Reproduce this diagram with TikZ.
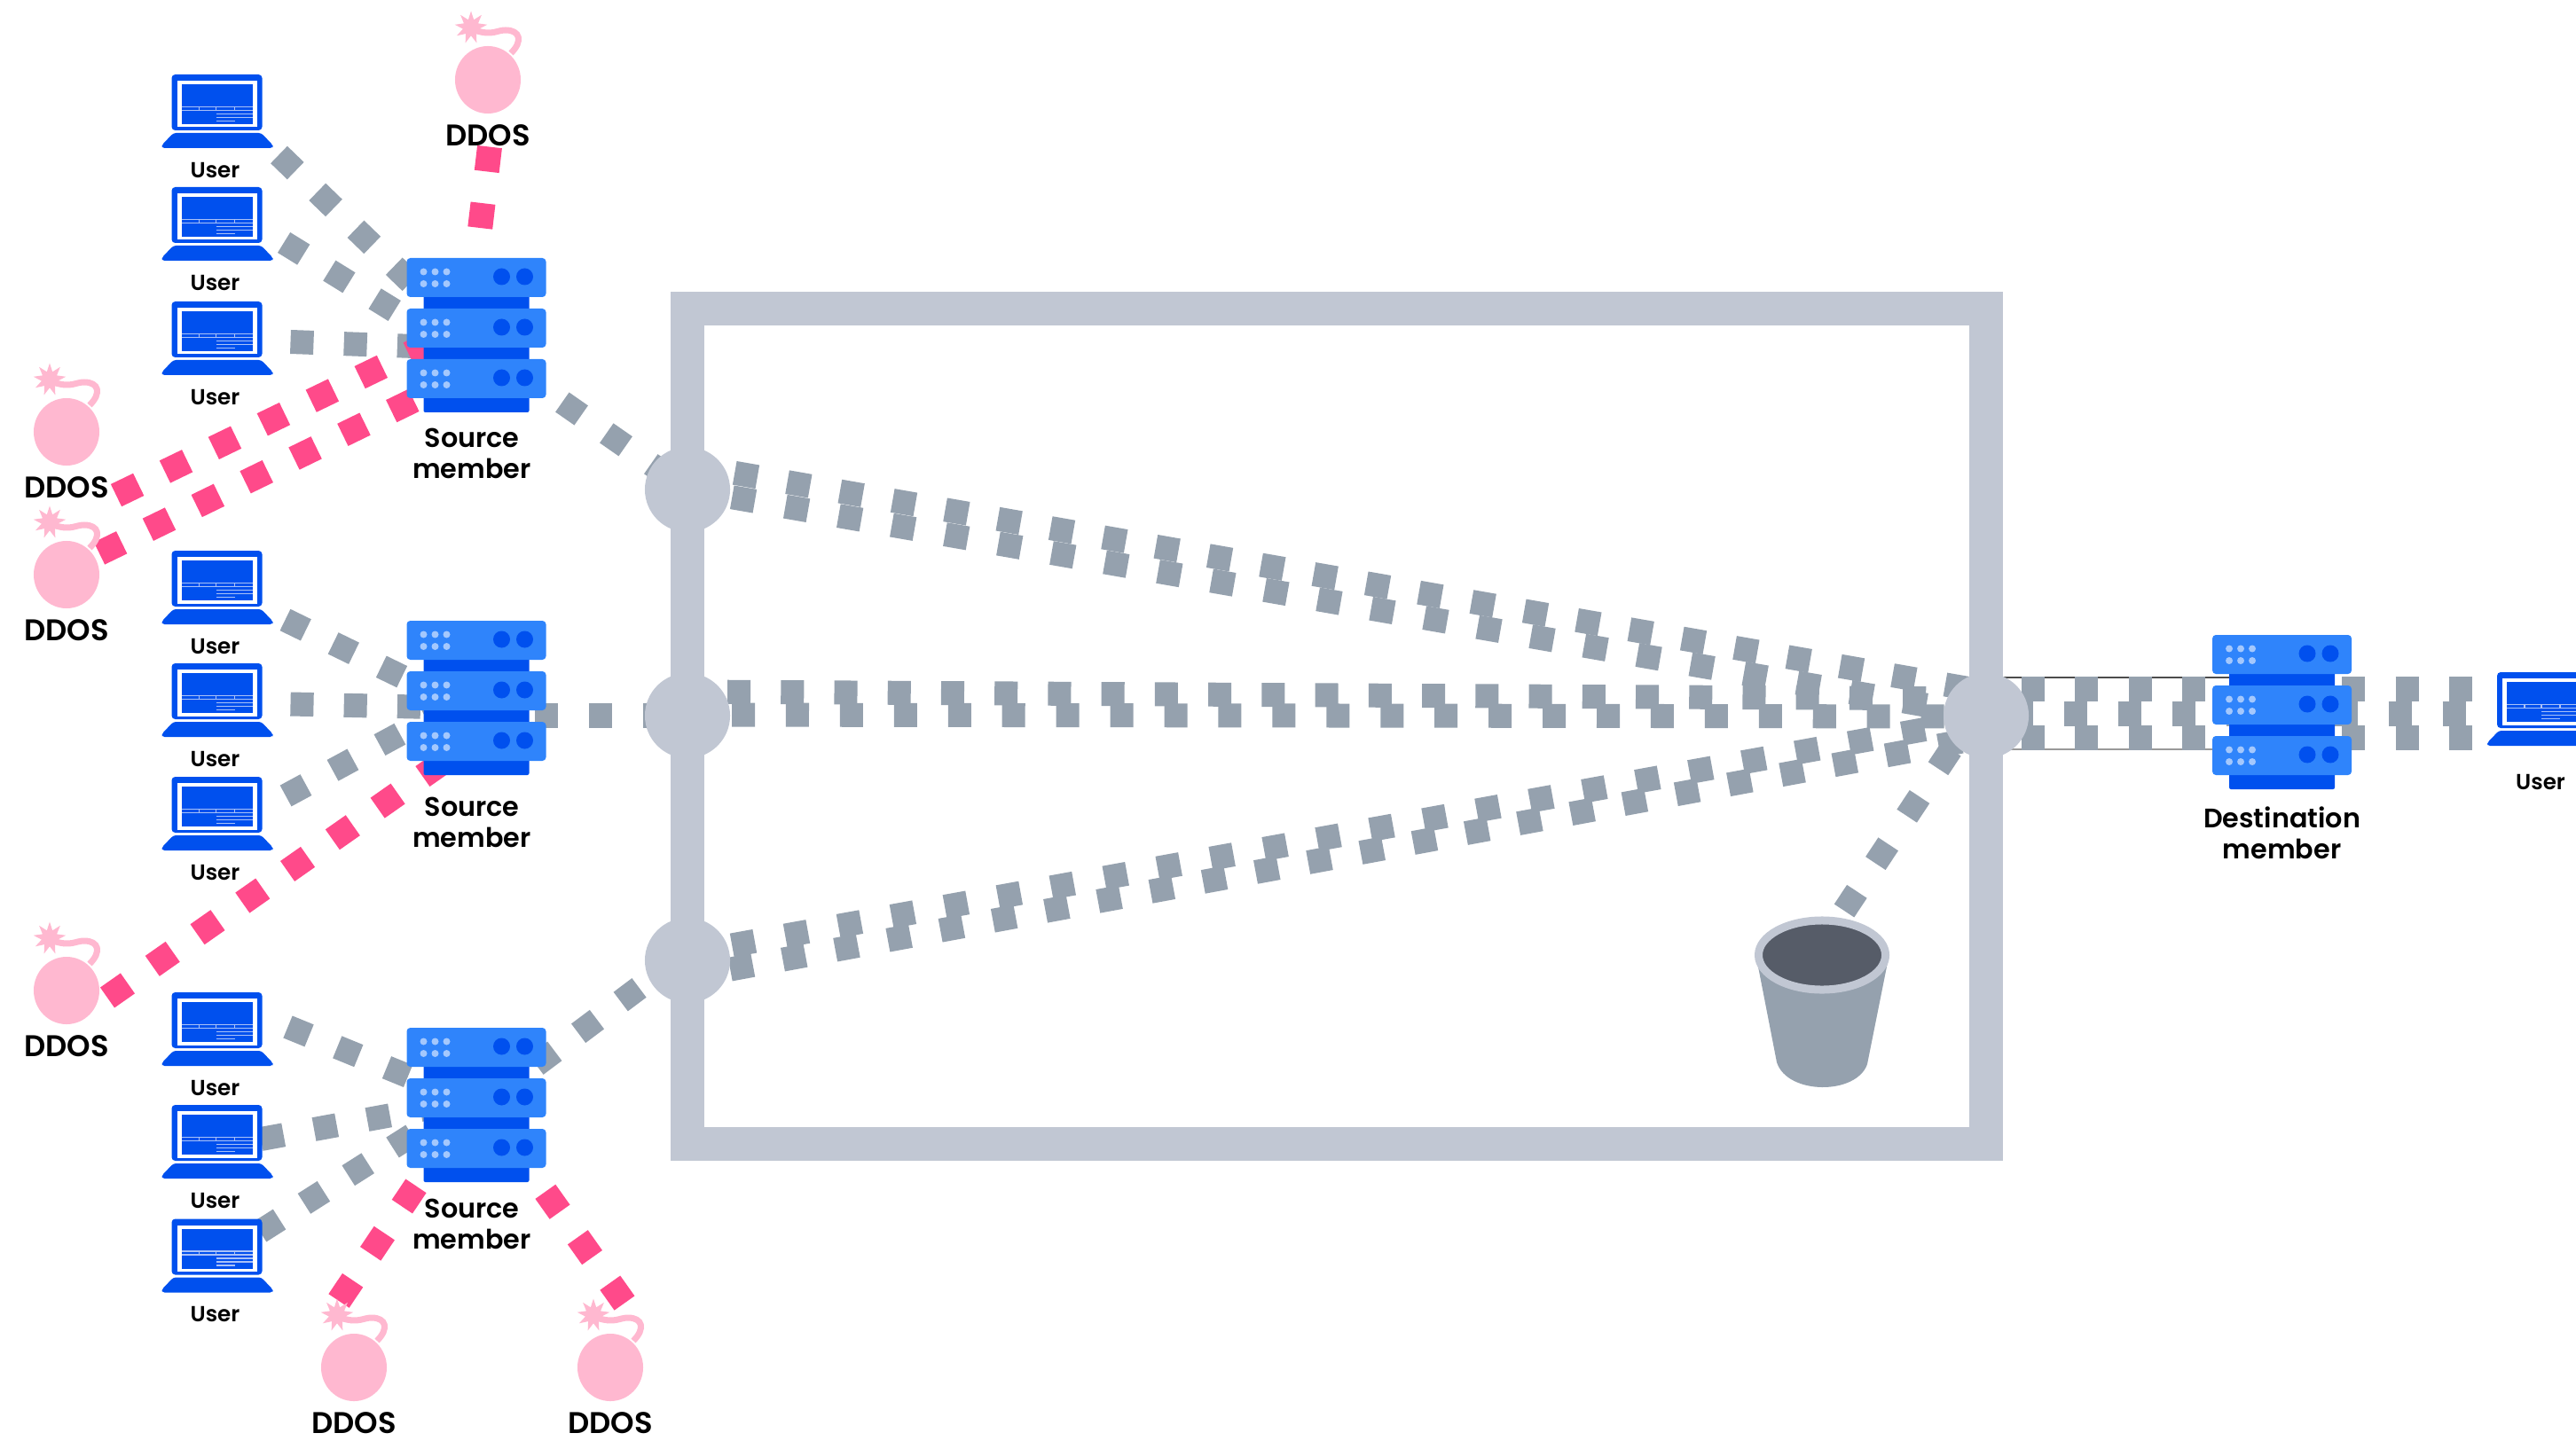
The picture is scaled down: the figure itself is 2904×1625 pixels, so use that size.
\documentclass[tikz,border=0pt]{standalone}
\usepackage{fontspec}
\setmainfont{Poppins}[BoldFont={Poppins SemiBold}]
\usetikzlibrary{positioning, shapes.geometric, backgrounds}
\definecolor{lapblue}{HTML}{0050EE}
\definecolor{srvblue}{HTML}{2F84FB}
\definecolor{dotblue}{HTML}{A4C8FD}
\definecolor{tintblue}{HTML}{A9C1F8}
\definecolor{flowgrey}{HTML}{95A1AE}
\definecolor{framegrey}{HTML}{C1C7D3}
\definecolor{hitpink}{HTML}{FF4A8A}
\definecolor{bombpink}{HTML}{FFB8D0}
\definecolor{pailgrey}{HTML}{565C68}

\begin{document}
\begin{tikzpicture}[
      x=.01cm, y=-.01cm,
      every node/.style={inner sep=0, outer sep=0},
      ghost/.style={minimum width=#1, minimum height=.83cm},
      srvbox/.style={minimum width=1.57cm, minimum height=1.74cm},
      hub/.style={circle, fill=framegrey, minimum size=.96cm},
      zone/.style={draw=framegrey, line width=.38cm, minimum width=14.64cm, minimum height=9.42cm},
      flow/.style={draw=flowgrey, line width=.27cm, dash pattern=on .26cm off .342cm},
      flowB/.style={flow, dash pattern=on .26cm off .349cm},
      hit/.style={draw=hitpink, line width=.28cm, dash pattern=on .28cm off .33cm},
      tube/.style={line width=.025cm},
      usertext/.style={font=\bfseries\fontsize{7}{8}\selectfont},
      srvtext/.style={font=\bfseries\fontsize{8.6}{9.9}\selectfont, align=center},
      ddostext/.style={font=\bfseries\fontsize{9.6}{10}\selectfont},
      pics/laptop/.style={code={
        \node[ghost=1.25cm] (-box) at (0,0) {};
        \fill[lapblue, rounded corners=.04cm] (-51,-41.5) rectangle (51,21.5);
        \fill[white] (-45,-34.5) rectangle (45,18);
        \fill[lapblue] (-40,-30.5) rectangle (40,14.5);
        \fill[lapblue, rounded corners=.03cm] (-49,24.5) -- (50,24.5) -- (63,38) -- (63,41.5) -- (-62,41.5) -- (-62,38) -- cycle;
        \draw[tintblue, line width=.015cm] (-40,-5) -- (40,-5) (-40,-1) -- (40,-1)
          (-20,-5) -- (-20,-1) (-1,-5) -- (-1,-1) (20,-5) -- (20,-1)
          (-1,3) -- (40,3) (-1,7) -- (40,7) (-1,11) -- (20,11);
      }},
      pics/server/.style={code={
        \node[srvbox] (-box) at (0,0) {};
        \fill[lapblue, rounded corners=.02cm] (-59.5,-80) rectangle (59.5,87);
        \foreach \uy in {-87,-30,27} {
          \fill[srvblue, rounded corners=.04cm] (-78.5,\uy) rectangle (78.5,\uy+44);
          \fill[lapblue] (28.5,\uy+21) circle (9.5);
          \fill[lapblue] (54.5,\uy+21) circle (9.5);
          \foreach \ux in {-59.5,-46.5,-33.5} {
            \fill[dotblue] (\ux,\uy+15.5) circle (4);
            \fill[dotblue] (\ux,\uy+29) circle (4);
          }
        }
      }},
      pics/bomb/.style={code={
        \draw[bombpink, line width=.07cm] (26,-30) .. controls (40,-44) and (36,-56) .. (20,-56) .. controls (10,-56) and (6,-50) .. (-12,-55);
        \node[ellipse, fill=bombpink, minimum width=.74cm, minimum height=.76cm] (-box) at (0,0) {};
        \node[star, star points=9, star point ratio=2, fill=bombpink, minimum size=.37cm] (-spark) at (-19,-59) {};
      }}
    ]

  \useasboundingbox (0,0) rectangle (2904,1625);

  \node[zone] (zone) at (1507,819) {};
  \node[hub] (hubA) at (775,552) {};
  \node[hub] (hubB) at (775,807) {};
  \node[hub] (hubC) at (775,1083) {};
  \node[hub] (hubR) at (2239,807) {};

  \pic (srvA) at (537,378) {server};
  \pic (srvB) at (537,787) {server};
  \pic (srvC) at (537,1246) {server};
  \pic (srvD) at (2572.5,803) {server};
  \node[srvtext, below=.185cm of srvA-box, xshift=-.05cm] (srvAtext) {Source\\member};
  \node[srvtext, below=.25cm of srvB-box, xshift=-.05cm] (srvBtext) {Source\\member};
  \node[srvtext, below=.19cm of srvC-box, xshift=-.05cm] (srvCtext) {Source\\member};
  \node[srvtext, below=.2cm of srvD-box] (srvDtext) {Destination\\member};

  \pic (userA) at (244.5,125.5) {laptop};
  \pic (userB) at (244.5,252.5) {laptop};
  \pic (userC) at (244.5,381.5) {laptop};
  \pic (userD) at (244.5,662.5) {laptop};
  \pic (userE) at (244.5,789.5) {laptop};
  \pic (userF) at (244.5,917.5) {laptop};
  \pic (userG) at (244.5,1160.5) {laptop};
  \pic (userH) at (244.5,1287.5) {laptop};
  \pic (userI) at (244.5,1416) {laptop};
  \pic (userJ) at (2866,799.5) {laptop};
  \node[usertext, below=.16cm of userA-box, xshift=-.02cm] (userAtext) {User};
  \node[usertext, below=.16cm of userB-box, xshift=-.02cm] (userBtext) {User};
  \node[usertext, below=.16cm of userC-box, xshift=-.02cm] (userCtext) {User};
  \node[usertext, below=.16cm of userD-box, xshift=-.02cm] (userDtext) {User};
  \node[usertext, below=.16cm of userE-box, xshift=-.02cm] (userEtext) {User};
  \node[usertext, below=.16cm of userF-box, xshift=-.02cm] (userFtext) {User};
  \node[usertext, below=.16cm of userG-box, xshift=-.02cm] (userGtext) {User};
  \node[usertext, below=.16cm of userH-box, xshift=-.02cm] (userHtext) {User};
  \node[usertext, below=.16cm of userI-box, xshift=-.02cm] (userItext) {User};
  \node[usertext, below=.32cm of userJ-box, xshift=-.02cm] (userJtext) {User};

  \pic (bombA) at (550,90) {bomb};
  \pic (bombB) at (75,487) {bomb};
  \pic (bombC) at (75,648) {bomb};
  \pic (bombD) at (75,1117) {bomb};
  \pic (bombE) at (399,1542) {bomb};
  \pic (bombF) at (688,1542) {bomb};
  \node[ddostext, below=.125cm of bombA-box] (ddosA) {DDOS};
  \node[ddostext, below=.125cm of bombB-box] (ddosB) {DDOS};
  \node[ddostext, below=.125cm of bombC-box] (ddosC) {DDOS};
  \node[ddostext, below=.125cm of bombD-box] (ddosD) {DDOS};
  \node[ddostext, below=.125cm of bombE-box] (ddosE) {DDOS};
  \node[ddostext, below=.125cm of bombF-box] (ddosF) {DDOS};

  \fill[flowgrey] (1981,1085) -- (2003,1198) .. controls (2015,1235) and (2093,1235) .. (2105,1200) -- (2128,1085) -- cycle;
  \node[ellipse, fill=pailgrey, draw=framegrey, line width=.09cm, minimum width=1.43cm, minimum height=.78cm] (pail) at (2054,1077) {};

  \begin{scope}[on background layer]
    \draw[flow, shorten <=.54cm] ([shift={(0,-28)}]hubA.center) -- ([shift={(0,-27)}]hubR.center);
    \draw[flowB, shorten <=.51cm] (hubA.center) -- (hubR.center);
    \draw[flow, shorten <=.45cm] ([shift={(0,-27)}]hubB.center) -- ([shift={(0,-19)}]hubR.center);
    \draw[flowB, shorten <=.50cm] ([shift={(0,-1)}]hubB.center) -- ([shift={(0,1)}]hubR.center);
    \draw[flowB, shorten <=.51cm] ([shift={(0,-8)}]hubC.center) -- ([shift={(0,3)}]hubR.center);
    \draw[flow, shorten <=.49cm] ([shift={(0,19)}]hubC.center) -- ([shift={(0,24)}]hubR.center);

    \draw[tube, draw=black!70] ([shift={(0,-43)}]hubR.center) -- ([shift={(0,-39)}]srvD-box.center);
    \draw[tube, draw=black!40] ([shift={(0,38)}]hubR.center) -- ([shift={(0,42)}]srvD-box.center);
    \draw[flow, shorten <=.40cm] ([shift={(0,-30)}]hubR.center) -- ([shift={(0,-22.5)}]userJ-box.west);
    \draw[flowB, shorten <=.27cm] ([shift={(0,-2)}]hubR.center) -- ([shift={(0,5.5)}]userJ-box.west);
    \draw[flow, shorten <=.40cm] ([shift={(0,25)}]hubR.center) -- ([shift={(0,32.5)}]userJ-box.west);
    \draw[flow, dash pattern=on .26cm off .38cm] ([shift={(25,-50)}]pail.center) -- ([shift={(0,-22)}]hubR.center);

    \draw[flow] ([shift={(70,49)}]userA-box.center) -- ([shift={(0,12)}]srvA-box.center);
    \draw[flow] ([shift={(75.6,21)}]userB-box.center) -- ([shift={(0,29.5)}]srvA-box.center);
    \draw[flow] ([shift={(83,4)}]userC-box.center) -- ([shift={(0,15)}]srvA-box.center);
    \draw[flowB, shorten <=1.18cm] ([shift={(0,8)}]srvA-box.center) -- (hubA.center);

    \draw[flow] ([shift={(77,36.5)}]userD-box.center) -- ([shift={(0,17)}]srvB-box.center);
    \draw[flow] ([shift={(83,4.5)}]userE-box.center) -- ([shift={(0,11.5)}]srvB-box.center);
    \draw[flow] ([shift={(77.6,-20)}]userF-box.center) -- ([shift={(0,-6)}]srvB-box.center);
    \draw[flowB] ([shift={(66,20)}]srvB-box.center) -- (hubB.center);

    \draw[flow] ([shift={(80,-2.5)}]userG-box.center) -- ([shift={(0,-1)}]srvC-box.center);
    \draw[flowB] ([shift={(49.6,-3)}]userH-box.center) -- ([shift={(0,-6)}]srvC-box.center);
    \draw[flow, dash pattern=on .26cm off .33cm] ([shift={(48.6,-27)}]userI-box.center) -- ([shift={(0,-12)}]srvC-box.center);
    \draw[flow, dash pattern=on .26cm off .335cm] ([shift={(67.5,-45)}]srvC-box.center) -- ([shift={(0,-10)}]hubC.center);

    \draw[hit, dash pattern=on .28cm off .36cm] ([shift={(2,13)}]ddosA.center) -- ([shift={(-10,0)}]srvA-box.center);
    \draw[hit] ([shift={(56,9)}]ddosB.center) -- ([shift={(0,-16)}]srvA-box.center);
    \draw[hit] ([shift={(37,-24)}]bombC-box.center) -- ([shift={(0,39)}]srvA-box.center);
    \draw[hit, dash pattern=on .28cm off .34cm] ([shift={(46,8)}]bombD-box.center) -- ([shift={(0,46)}]srvB-box.center);
    \draw[hit, dash pattern=on .28cm off .36cm] ([shift={(-17,-75)}]bombE-box.center) -- ([shift={(0,-10)}]srvC-box.center);
    \draw[hit, dash pattern=on .28cm off .35cm] ([shift={(16,-72.5)}]bombF-box.center) -- ([shift={(0,-12)}]srvC-box.center);
  \end{scope}
\end{tikzpicture}
\end{document}
